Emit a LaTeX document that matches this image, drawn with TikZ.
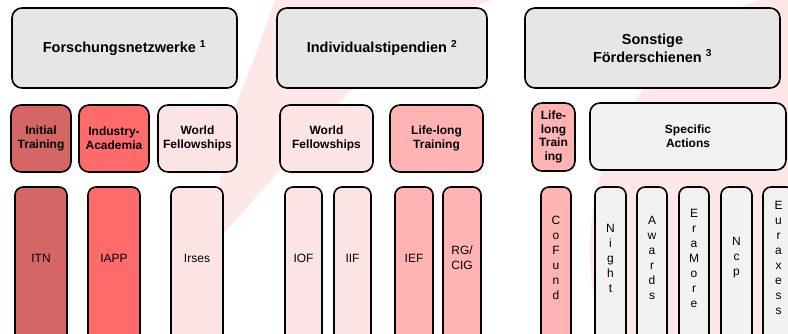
\documentclass[tikz,border=0pt]{standalone}
\usepackage{fontspec}
\setmainfont{Liberation Sans}
\usetikzlibrary{positioning}

\definecolor{headgray}{RGB}{230,230,230}
\definecolor{actgray}{RGB}{242,242,242}
\definecolor{itred}{RGB}{212,102,102}
\definecolor{iared}{RGB}{255,107,107}
\definecolor{wfpink}{RGB}{253,228,228}
\definecolor{llpink}{RGB}{255,179,179}
\definecolor{bgpink}{RGB}{253,231,231}

\newcommand{\headfont}{\fontsize{14.5}{18}\selectfont\bfseries}
\newcommand{\subfont}{\fontsize{12}{14.3}\selectfont\bfseries}
\newcommand{\cellfont}{\fontsize{12}{15}\selectfont}

\begin{document}
\begin{tikzpicture}[x=1pt, y=-1pt,
    box/.style={draw, line width=1.6pt, rounded corners=10pt, inner sep=0pt, align=center},
    head/.style={box, minimum width=#1, minimum height=80pt, fill=headgray, font=\headfont},
    sub/.style={box, minimum width=#1, minimum height=67pt, font=\subfont},
    tallbox/.style={box, rounded corners=8pt, minimum height=158pt},
    celltext/.style={inner sep=0pt, align=center, font=\cellfont}
]
    \useasboundingbox (0,0) rectangle (788,334);
    \clip (0,0) rectangle (788,334);
    \fill[white] (0,0) rectangle (788,334);

    % background logo
    \fill[bgpink] (205,250) -- (238,100) .. controls (250,70) and (262,40) .. (278,-10)
        -- (530,-10) .. controls (440,10) and (390,50) .. (347,95) -- (225,232) -- cycle;
    \fill[bgpink] (860,250) circle[radius=270pt];

    % programme lines
    \node[head=225pt] (netze) at (124.5,48) {Forschungsnetzwerke \textsuperscript{1}};
    \node[head=210pt] (indiv) at (382,48) {Individualstipendien \textsuperscript{2}};
    \node[head=255pt] (sonst) at (652.5,48) {Sonstige\\Förderschienen \textsuperscript{3}};

    % actions
    \node[sub=60pt, fill=itred] (initial) at (41,138.5) {Initial\\Training};
    \node[sub=70pt, fill=iared] (industry) at (114,138.5) {Industry-\\Academia};
    \node[sub=79pt, fill=wfpink] (world a) at (197.5,138.5) {World\\Fellowships};
    \node[sub=93pt, fill=wfpink] (world b) at (326.5,138.5) {World\\Fellowships};
    \node[sub=93pt, fill=llpink] (lifelong a) at (436.5,138.5) {Life-long\\Training};
    \node[sub=43pt, fill=llpink, minimum height=68pt, font=\fontsize{12}{13.7}\selectfont\bfseries]
        (lifelong b) at (553.5,137) {Life-\\long\\Train\\ing};
    \node[sub=196pt, fill=actgray] (specific) at (688,136.5) {Specific\\Actions};

    % single schemes
    \foreach \x/\w/\col/\nm/\txt in {
        41/52/itred/itn/ITN, 114/52/iared/iapp/IAPP, 197/52/wfpink/irses/Irses,
        303.5/37/wfpink/iof/IOF, 352.5/37/wfpink/iif/IIF,
        414/38/llpink/ief/IEF, 462/38/llpink/rgcig/{RG/\\CIG},
        556/30/llpink/cofund/{C\\o\\F\\u\\n\\d},
        610.5/31/actgray/night/{N\\i\\g\\h\\t},
        652/30/actgray/awards/{A\\w\\a\\r\\d\\s},
        694/30/actgray/eramore/{E\\r\\a\\M\\o\\r\\e},
        736.5/31/actgray/ncp/{N\\c\\p},
        778.5/31/actgray/euraxess/{E\\u\\r\\a\\x\\e\\s\\s}}
    {
        \node[tallbox, minimum width=\w pt, fill=\col] (\nm) at (\x,266) {};
        \node[celltext] (\nm-txt) at ([yshift=8pt]\nm.center) {\txt};
    }
\end{tikzpicture}
\end{document}
